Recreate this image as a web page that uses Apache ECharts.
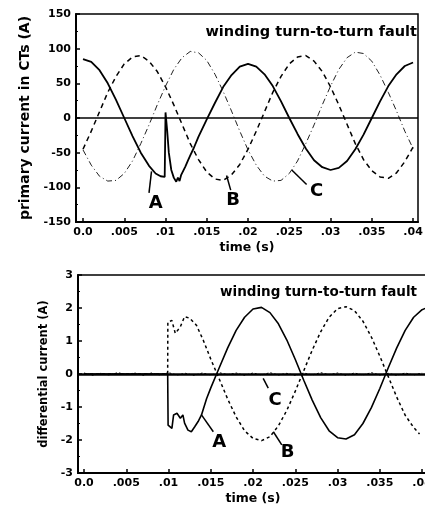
<!DOCTYPE html>
<html>
<head>
    <meta charset="utf-8">
    <title>winding turn-to-turn fault</title>
    <script src="https://cdn.jsdelivr.net/npm/echarts/dist/echarts.min.js"></script>
</head>
<body style="margin:0">
<div id="chart-container" style="width: 425px; height: 511px;"></div>
<script>
    // x axis ticks (time, s)
    var timeTicks = [0, 0.005, 0.01, 0.015, 0.02, 0.025, 0.03, 0.035, 0.04];
    var timeTickLabels = ['0.0', '.005', '.01', '.015', '.02', '.025', '.03', '.035', '.04'];

    // top panel: primary currents in CTs (A)
    var topTime = [0, 0.001, 0.002, 0.003, 0.004, 0.005, 0.006, 0.007, 0.008, 0.009,
        0.01, 0.011, 0.012, 0.013, 0.014, 0.015, 0.016, 0.017, 0.018, 0.019,
        0.02, 0.021, 0.022, 0.023, 0.024, 0.025, 0.026, 0.027, 0.028, 0.029,
        0.03, 0.031, 0.032, 0.033, 0.034, 0.035, 0.036, 0.037, 0.038, 0.039, 0.04];
    var topB = [-45, -19, 9, 37, 60, 78, 88, 90, 82, 67,
        45, 19, -9, -37, -60, -78, -88, -90, -82, -67,
        -45, -19, 9, 37, 60, 78, 88, 90, 82, 67,
        45, 19, -9, -37, -60, -76, -85, -87, -79, -63, -42];
    var topC = [-46, -68, -84, -91, -90, -80, -62, -37, -10, 19,
        46, 70, 87, 96, 94, 83, 63, 38, 10, -19,
        -46, -68, -84, -91, -90, -80, -62, -37, -10, 19,
        46, 70, 87, 95, 93, 82, 62, 37, 10, -19, -44];
    var topATime = [0, 0.001, 0.002, 0.003, 0.004, 0.005, 0.006, 0.007, 0.008, 0.0088, 0.0094, 0.0099,
        0.01, 0.0101, 0.0102, 0.0104, 0.0107, 0.011, 0.0113, 0.0115, 0.0117, 0.0119, 0.0121,
        0.0124, 0.0127, 0.013, 0.0134, 0.014, 0.015, 0.016, 0.017, 0.018, 0.019,
        0.02, 0.021, 0.022, 0.023, 0.024, 0.025, 0.026, 0.027, 0.028, 0.029,
        0.03, 0.031, 0.032, 0.033, 0.034, 0.035, 0.036, 0.037, 0.038, 0.039, 0.04];
    var topA = [85, 81, 69, 50, 26, 0, -26, -50, -69, -80, -84, -85,
        8, 6, -18, -50, -75, -86, -92, -86, -91, -82, -80,
        -70, -62, -54, -44, -27, -2, 22, 45, 62, 74,
        78, 74, 63, 46, 24, 0, -23, -44, -61, -71,
        -75, -72, -62, -45, -24, 0, 24, 46, 63, 75, 80];

    // bottom panel: differential currents (A)
    var diffATime = [0, 0.0099, 0.00995, 0.0104, 0.0106, 0.011, 0.0114, 0.0117, 0.0119, 0.0123,
        0.0127, 0.0131, 0.0135, 0.0139, 0.0145, 0.015, 0.016, 0.017, 0.018, 0.019,
        0.02, 0.021, 0.022, 0.023, 0.024, 0.025, 0.026, 0.027, 0.028, 0.029,
        0.03, 0.031, 0.032, 0.033, 0.034, 0.035, 0.036, 0.037, 0.038, 0.039, 0.04, 0.0405];
    var diffA = [0, 0, -1.55, -1.65, -1.24, -1.19, -1.34, -1.24, -1.49, -1.7,
        -1.75, -1.6, -1.44, -1.24, -0.75, -0.42, 0.19, 0.79, 1.32, 1.72,
        1.97, 2.02, 1.86, 1.52, 1.03, 0.44, -0.19, -0.79, -1.32, -1.72,
        -1.93, -1.97, -1.84, -1.5, -1.02, -0.44, 0.19, 0.79, 1.32, 1.72, 1.95, 2.0];
    var diffBTime = [0, 0.0099, 0.00992, 0.0104, 0.0108, 0.0114, 0.0119, 0.0125, 0.0133, 0.0141,
        0.015, 0.016, 0.017, 0.018, 0.019, 0.02, 0.021, 0.022, 0.023, 0.024,
        0.025, 0.026, 0.027, 0.028, 0.029, 0.03, 0.031, 0.032, 0.033, 0.034,
        0.035, 0.036, 0.037, 0.038, 0.039, 0.0397];
    var diffB = [0, 0, 1.58, 1.62, 1.23, 1.43, 1.74, 1.69, 1.48, 1.03,
        0.45, -0.15, -0.76, -1.3, -1.72, -1.95, -2.02, -1.9, -1.57, -1.1,
        -0.52, 0.1, 0.72, 1.28, 1.72, 1.98, 2.04, 1.92, 1.6, 1.12,
        0.54, -0.08, -0.7, -1.25, -1.62, -1.82];
    var diffCTime = [0, 0.001, 0.002, 0.003, 0.004, 0.005, 0.006, 0.007, 0.008, 0.009,
        0.01, 0.011, 0.012, 0.013, 0.014, 0.015, 0.016, 0.017, 0.018, 0.019,
        0.02, 0.021, 0.022, 0.023, 0.024, 0.025, 0.026, 0.027, 0.028, 0.029,
        0.03, 0.031, 0.032, 0.033, 0.034, 0.035, 0.036, 0.037, 0.038, 0.039, 0.04];
    var diffC = [0.03, -0.04, 0.02, -0.03, 0.04, -0.02, 0.03, -0.04, 0.03, -0.03,
        0.04, -0.03, 0.02, -0.04, 0.03, -0.03, 0.04, -0.02, 0.03, -0.04,
        0.03, -0.03, 0.04, -0.03, 0.02, -0.04, 0.03, -0.03, 0.04, -0.02,
        0.03, -0.04, 0.03, -0.03, 0.04, -0.03, 0.02, -0.04, 0.03, -0.03, 0.03];

    // phase labels with leader lines [from, to, label position]
    var phaseNames = ['A', 'B', 'C'];
    var topLeaderFrom = [[0.0083, -77], [0.0174, -83], [0.0253, -75]];
    var topLeaderTo = [[0.0080, -108], [0.0179, -104], [0.0271, -96]];
    var topLabelAt = [[0.0088, -123], [0.0182, -119], [0.0283, -106]];
    var diffLeaderFrom = [[0.0139, -1.24], [0.0224, -1.75], [0.0212, -0.13]];
    var diffLeaderTo = [[0.0153, -1.75], [0.0234, -2.15], [0.0218, -0.43]];
    var diffLabelAt = [[0.0160, -2.08], [0.0241, -2.38], [0.0226, -0.8]];

    var font = 'DejaVu Sans';

    function pairs(xs, ys) {
        return xs.map(function (x, i) { return [x, ys[i]]; });
    }

    function leaders(from, to) {
        return from.map(function (p, i) {
            return [{ coord: p }, { coord: to[i] }];
        });
    }

    function letters(at) {
        return at.map(function (p, i) {
            return { name: phaseNames[i], coord: p };
        });
    }

    function timeAxis(grid, min, max) {
        return {
            type: 'value',
            gridIndex: grid,
            min: min,
            max: max,
            name: 'time (s)',
            nameLocation: 'middle',
            nameGap: 19,
            nameTextStyle: { fontFamily: font, fontWeight: 'bold', fontSize: 12.5, color: '#000' },
            axisLine: { onZero: false, lineStyle: { color: '#000', width: 2 } },
            axisTick: { inside: true, length: 4, customValues: timeTicks, lineStyle: { color: '#000', width: 1.5 } },
            axisLabel: {
                customValues: timeTicks,
                margin: 5,
                fontFamily: font, fontWeight: 'bold', fontSize: 11, color: '#000',
                formatter: function (v) {
                    var i = timeTicks.indexOf(v);
                    return i >= 0 ? timeTickLabels[i] : '';
                }
            },
            splitLine: { show: false }
        };
    }

    function valueAxis(grid, min, max, step, name, nameGap, nameSize) {
        return {
            type: 'value',
            gridIndex: grid,
            min: min,
            max: max,
            interval: step,
            name: name,
            nameLocation: 'middle',
            nameGap: nameGap,
            nameRotate: 90,
            nameTextStyle: { fontFamily: font, fontWeight: 'bold', fontSize: nameSize, color: '#000' },
            axisLine: { onZero: false, lineStyle: { color: '#000', width: 2 } },
            axisTick: { inside: true, length: 4, lineStyle: { color: '#000', width: 1.5 } },
            minorTick: { show: true, splitNumber: 2, length: 2, lineStyle: { color: '#000', width: 1 } },
            axisLabel: { margin: 5, fontFamily: font, fontWeight: 'bold', fontSize: 11, color: '#000' },
            splitLine: { show: false }
        };
    }

    var letterStyle = {
        show: true, position: 'inside', formatter: '{b}',
        fontFamily: font, fontWeight: 'bold', fontSize: 18, color: '#000'
    };

    var option = {
        animation: false,
        backgroundColor: '#fff',
        title: [
            {
                text: 'winding turn-to-turn fault', right: 8, top: 25, padding: 0,
                textStyle: { fontFamily: font, fontWeight: 'bold', fontSize: 14.5, color: '#000' }
            },
            {
                text: 'winding turn-to-turn fault', right: 8, top: 285, padding: 0,
                textStyle: { fontFamily: font, fontWeight: 'bold', fontSize: 13.5, color: '#000' }
            }
        ],
        grid: [
            { left: 76, top: 14, width: 342, height: 208, outerBoundsMode: 'none',
              show: true, borderColor: '#000', borderWidth: 1.5 },
            { left: 78, top: 275, width: 350, height: 198, outerBoundsMode: 'none',
              show: true, borderColor: '#000', borderWidth: 1.5 }
        ],
        xAxis: [
            timeAxis(0, -0.00085, 0.0406),
            timeAxis(1, -0.00071, 0.0407)
        ],
        yAxis: [
            valueAxis(0, -150, 150, 50, 'primary current in CTs (A)', 36, 14),
            valueAxis(1, -3, 3, 1, 'differential current (A)', 23, 11.5)
        ],
        series: [
            {
                name: 'A', type: 'line', xAxisIndex: 0, yAxisIndex: 0, symbol: 'none',
                data: pairs(topATime, topA),
                lineStyle: { color: '#000', width: 1.8 },
                markLine: {
                    silent: true, symbol: 'none', label: { show: false },
                    lineStyle: { color: '#000', width: 1.5, type: 'solid' },
                    data: [{ yAxis: 0 }].concat(leaders(topLeaderFrom, topLeaderTo))
                },
                markPoint: {
                    symbol: 'circle', symbolSize: 1, itemStyle: { color: 'transparent' },
                    label: letterStyle,
                    data: letters(topLabelAt)
                }
            },
            {
                name: 'B', type: 'line', xAxisIndex: 0, yAxisIndex: 0, symbol: 'none',
                data: pairs(topTime, topB),
                lineStyle: { color: '#000', width: 1.5, type: [5, 4] }
            },
            {
                name: 'C', type: 'line', xAxisIndex: 0, yAxisIndex: 0, symbol: 'none',
                data: pairs(topTime, topC),
                lineStyle: { color: '#222', width: 1, type: [6, 3, 1, 3] }
            },
            {
                name: 'A diff', type: 'line', xAxisIndex: 1, yAxisIndex: 1, symbol: 'none',
                data: pairs(diffATime, diffA),
                lineStyle: { color: '#000', width: 1.6 },
                markLine: {
                    silent: true, symbol: 'none', label: { show: false },
                    lineStyle: { color: '#000', width: 1.5, type: 'solid' },
                    data: [{ yAxis: 0, lineStyle: { width: 2.5 } }].concat(leaders(diffLeaderFrom, diffLeaderTo))
                },
                markPoint: {
                    symbol: 'circle', symbolSize: 1, itemStyle: { color: 'transparent' },
                    label: letterStyle,
                    data: letters(diffLabelAt)
                }
            },
            {
                name: 'B diff', type: 'line', xAxisIndex: 1, yAxisIndex: 1, symbol: 'none',
                data: pairs(diffBTime, diffB),
                lineStyle: { color: '#000', width: 1.5, type: [3, 3] }
            },
            {
                name: 'C diff', type: 'line', xAxisIndex: 1, yAxisIndex: 1, symbol: 'none',
                data: pairs(diffCTime, diffC),
                lineStyle: { color: '#000', width: 1, type: [2, 2] }
            }
        ]
    };

    var chart = echarts.init(document.getElementById('chart-container'));
    chart.setOption(option);
</script>
</body>
</html>
